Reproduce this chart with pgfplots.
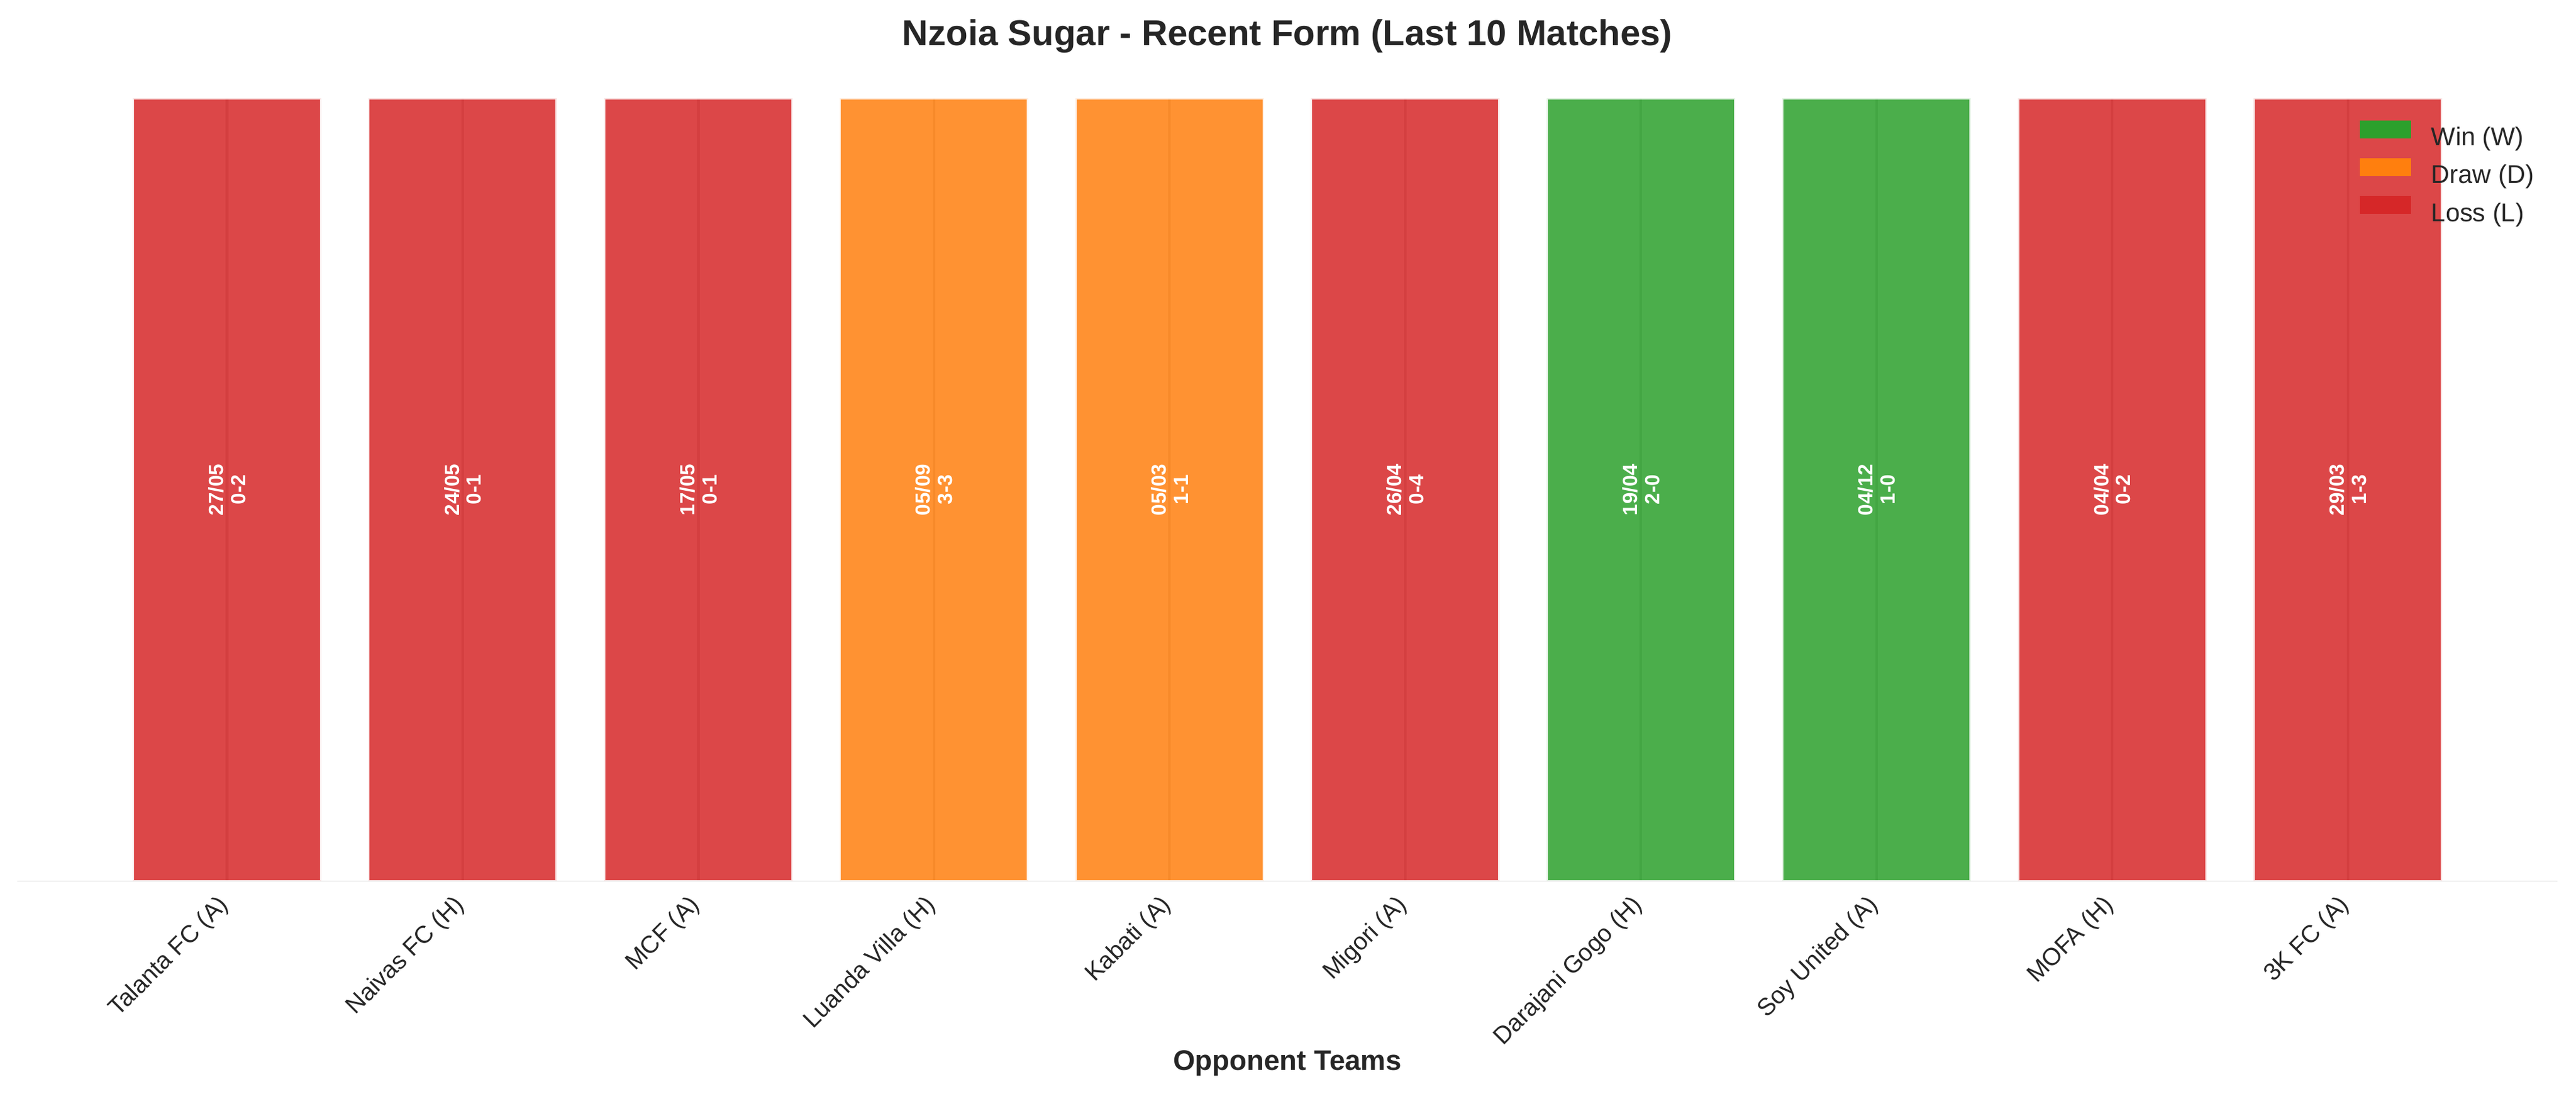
\documentclass[border=0pt]{standalone}
\usepackage{fontspec}
\setmainfont{Liberation Sans}
\usepackage{pgfplots}
\usepackage{pgfplotstable}
\pgfplotsset{compat=1.18}

\definecolor{winc}{HTML}{2CA02C}
\definecolor{drawc}{HTML}{FF7F0E}
\definecolor{lossc}{HTML}{D62728}
\definecolor{txt}{HTML}{262626}
\definecolor{spine}{HTML}{CCCCCC}

% match index, bar height (every match gets a full bar)
\pgfplotstableread{
x y
6 1
7 1
}\windata
\pgfplotstableread{
x y
3 1
4 1
}\drawdata
\pgfplotstableread{
x y
0 1
1 1
2 1
5 1
8 1
9 1
}\lossdata

\begin{document}
\begin{tikzpicture}
\begin{axis}[
    at={(0,0)}, anchor=south west,
    scale only axis,
    width=990.6pt, height=305.2pt,
    xmin=-0.89, xmax=9.89,
    ymin=0, ymax=1,
    axis line style={draw=none},
    ytick=\empty,
    xtick={0,...,9},
    xticklabels={Talanta FC (A), Naivas FC (H), MCF (A), Luanda Villa (H), Kabati (A),
                 Migori (A), Darajani Gogo (H), Soy United (A), MOFA (H), 3K FC (A)},
    major tick length=0pt,
    xmajorgrids,
    grid style={spine, line width=1pt},
    xticklabel style={xshift=-4pt, yshift=-4.5pt, rotate=45, anchor=north east, inner sep=0pt,
        font=\fontsize{9.5}{11}\selectfont, text=txt},
    ybar,
    bar width=0.8,
    title={Nzoia Sugar - Recent Form (Last 10 Matches)},
    title style={at={(axis description cs:0.5,1)}, anchor=base, yshift=14.5pt,
        font=\bfseries\fontsize{14}{17}\selectfont, text=txt},
    xlabel={Opponent Teams},
    xlabel style={at={(axis description cs:0.5,0)}, anchor=base, yshift=-73.7pt,
        font=\bfseries\fontsize{11}{13}\selectfont, text=txt},
    legend style={draw=none, fill=none, at={(1,1)}, anchor=north east,
        xshift=-9.2pt, yshift=-8.6pt, inner sep=0pt, outer sep=0pt,
        row sep=2.4pt, column sep=8pt,
        font=\fontsize{10}{12}\selectfont, text=txt,
        nodes={inner sep=0pt, text height=8pt, text depth=2.5pt}},
    legend cell align=left,
    legend image code/.code={\fill[#1, fill opacity=1, draw=none] (0pt,0.01em) rectangle (20pt,0.71em);},
]
\addplot[fill=winc, fill opacity=0.85, draw=white, draw opacity=0.85, line width=1pt, bar shift=0pt]
    table[x=x, y=y] {\windata};
\addlegendentry{Win (W)}
\addplot[fill=drawc, fill opacity=0.85, draw=white, draw opacity=0.85, line width=1pt, bar shift=0pt]
    table[x=x, y=y] {\drawdata};
\addlegendentry{Draw (D)}
\addplot[fill=lossc, fill opacity=0.85, draw=white, draw opacity=0.85, line width=1pt, bar shift=0pt]
    table[x=x, y=y] {\lossdata};
\addlegendentry{Loss (L)}

% bottom spine only
\draw[spine, line width=0.6pt] (rel axis cs:0,0) -- (rel axis cs:1,0);

% date and score inside each bar
\tikzset{barlab/.style={rotate=90, align=center, text=white,
    font=\bfseries\fontsize{8}{8.6}\selectfont}}
\node[barlab] at (axis cs:0,0.5) {27/05\\0-2};
\node[barlab] at (axis cs:1,0.5) {24/05\\0-1};
\node[barlab] at (axis cs:2,0.5) {17/05\\0-1};
\node[barlab] at (axis cs:3,0.5) {05/09\\3-3};
\node[barlab] at (axis cs:4,0.5) {05/03\\1-1};
\node[barlab] at (axis cs:5,0.5) {26/04\\0-4};
\node[barlab] at (axis cs:6,0.5) {19/04\\2-0};
\node[barlab] at (axis cs:7,0.5) {04/12\\1-0};
\node[barlab] at (axis cs:8,0.5) {04/04\\0-2};
\node[barlab] at (axis cs:9,0.5) {29/03\\1-3};
\end{axis}
\pgfresetboundingbox
\path[use as bounding box] (-6.75pt,-82.87pt) rectangle (997.8pt,343.5pt);
\end{tikzpicture}
\end{document}
